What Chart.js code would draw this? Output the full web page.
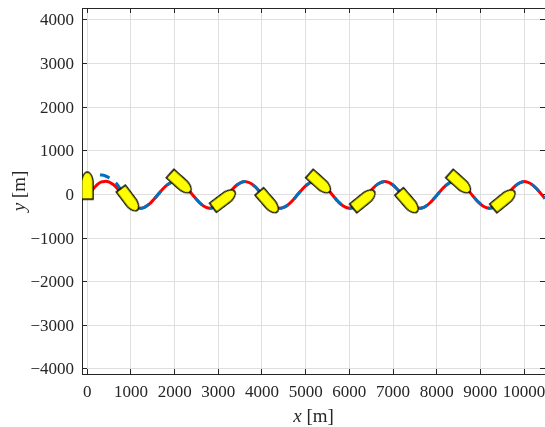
<!DOCTYPE html>
<html>
<head>
<meta charset="utf-8">
<style>
  html, body { margin: 0; padding: 0; background: #fff; }
  canvas { display: block; }
</style>
<script src="https://cdn.jsdelivr.net/npm/chart.js@4"></script>
</head>
<body>
<canvas id="c" width="545" height="427"></canvas>
<script>
// values
const trackX = [0,101,202,302,403,504,605,705,806,907,1008,1108,1209,1310,1411,1511,1612,1713,1814,1914,
  2015,2116,2217,2317,2418,2519,2620,2720,2821,2922,3023,3124,3224,3325,3426,3527,3627,3728,3829,3930,
  4030,4131,4232,4333,4433,4534,4635,4736,4836,4937,5038,5139,5239,5340,5441,5542,5643,5743,5844,5945,
  6046,6146,6247,6348,6449,6549,6650,6751,6852,6952,7053,7154,7255,7355,7456,7557,7658,7758,7859,7960,
  8061,8162,8262,8363,8464,8565,8665,8766,8867,8968,9068,9169,9270,9371,9471,9572,9673,9774,9874,9975,
  10076,10177,10277,10378,10479];
const trackY = [0,90,200,280,300,285,220,120,10,-110,-215,-290,-315,-293,-227,-128,-11,107,207,273,
  295,270,202,101,-17,-134,-232,-295,-315,-287,-216,-113,5,121,217,278,294,263,190,86,
  -33,-148,-243,-301,-314,-280,-204,-99,21,135,227,283,293,256,178,71,-48,-162,-252,-305,
  -312,-273,-192,-84,36,148,237,287,291,249,166,56,-63,-175,-261,-308,-309,-264,-180,-69,
  51,161,246,290,288,240,153,42,-78,-187,-270,-311,-306,-256,-167,-54,66,174,253,292,
  284,231,141,27,-93];
// dashed reference starts off the track, then follows it
const refX = [292,403,504,605,705,806,907];
const refY = [450,430,380,310,200,30,-110];

const shipX = [0,955,2127,3125,4142,5317,6329,7344,8523,9536];
const shipY = [200,-112,272,-117,-165,272,-124,-165,272,-124];
const shipHeading = [0,143,132,53,139,132,51,139,132,51];

const xTicks = [0,1000,2000,3000,4000,5000,6000,7000,8000,9000,10000];
const yTicks = [-4000,-3000,-2000,-1000,0,1000,2000,3000,4000];
const xLimits = [-121,10480];
const yLimits = [-4115,4274];

const INK = '#262626';
const GRID = '#dfdfdf';
const TICK_FONT = { family: '"Liberation Serif", serif', size: 17 };

// ship marker, pointing up, centred on its canvas
function makeShip() {
  const w = 11.5, len = 27;
  const cv = document.createElement('canvas');
  cv.width = 17; cv.height = 33;
  const g = cv.getContext('2d');
  g.translate(cv.width / 2, cv.height / 2);
  const hw = w / 2, hl = len / 2;
  g.beginPath();
  g.moveTo(-hw, hl);
  g.lineTo(-hw, -hl + 9);
  g.quadraticCurveTo(-hw + 1, -hl + 2, -1.3, -hl);
  g.lineTo(1.3, -hl);
  g.quadraticCurveTo(hw - 1, -hl + 2, hw, -hl + 9);
  g.lineTo(hw, hl);
  g.closePath();
  g.fillStyle = '#ffff00';
  g.fill();
  g.lineWidth = 1.3;
  g.strokeStyle = '#000';
  g.stroke();
  return cv;
}

function pairs(xs, ys) {
  return xs.map((x, i) => ({ x: x, y: ys[i] }));
}

function tickText(v) {
  return v < 0 ? '\u2212' + Math.abs(v) : String(v);
}

function setTicks(values) {
  return s => { s.ticks = values.map(v => ({ value: v })); };
}

// keep the plot box where it is, labels may overhang
function noOverhang(s) {
  s.paddingLeft = s.paddingRight = s.paddingTop = s.paddingBottom = 0;
}

// axis titles have an italic letter next to upright text
const axisTitles = {
  id: 'axisTitles',
  afterDraw(chart) {
    const ctx = chart.ctx;
    const a = chart.chartArea;
    const put = (letter) => {
      ctx.font = 'italic 19px "Liberation Serif", serif';
      const w1 = ctx.measureText(letter).width;
      ctx.font = '19px "Liberation Serif", serif';
      const w2 = ctx.measureText(' [m]').width;
      const start = -(w1 + w2) / 2;
      ctx.textBaseline = 'alphabetic';
      ctx.textAlign = 'left';
      ctx.fillStyle = INK;
      ctx.font = 'italic 19px "Liberation Serif", serif';
      ctx.fillText(letter, start, 0);
      ctx.font = '19px "Liberation Serif", serif';
      ctx.fillText(' [m]', start + w1, 0);
    };
    ctx.save();
    ctx.translate((a.left + a.right) / 2, 422);
    put('x');
    ctx.restore();
    ctx.save();
    ctx.translate(25, (a.top + a.bottom) / 2);
    ctx.rotate(-Math.PI / 2);
    put('y');
    ctx.restore();
  }
};

const sideAxis = {
  border: { color: INK, width: 1 },
  grid: { drawOnChartArea: false, tickLength: -5, tickColor: INK, tickWidth: 1 }
};

new Chart(document.getElementById('c'), {
  type: 'scatter',
  plugins: [axisTitles],
  data: {
    datasets: [
      {
        label: 'ships',
        data: pairs(shipX, shipY),
        showLine: false,
        pointStyle: makeShip(),
        pointRotation: shipHeading,
        order: 0
      },
      {
        label: 'reference',
        data: pairs(refX.concat(trackX.slice(10)), refY.concat(trackY.slice(10))),
        showLine: true,
        pointRadius: 0,
        borderColor: '#0072BD',
        borderWidth: 3,
        borderDash: [10, 8],
        tension: 0.4,
        order: 1
      },
      {
        label: 'track',
        data: pairs(trackX, trackY),
        showLine: true,
        pointRadius: 0,
        borderColor: '#ff0000',
        borderWidth: 3,
        tension: 0.4,
        order: 2
      }
    ]
  },
  options: {
    responsive: false,
    animation: false,
    layout: { autoPadding: false, padding: { top: 8, left: 0, right: 0, bottom: 0 } },
    plugins: { legend: { display: false }, tooltip: { enabled: false } },
    scales: {
      x: {
        type: 'linear',
        position: 'bottom',
        min: xLimits[0],
        max: xLimits[1],
        afterFit: s => { s.height = 53; noOverhang(s); },
        afterBuildTicks: setTicks(xTicks),
        border: { color: INK, width: 1 },
        grid: { color: GRID, lineWidth: 1, tickLength: -5, tickColor: INK, tickWidth: 1 },
        ticks: { font: TICK_FONT, color: INK, padding: 13, maxRotation: 0, autoSkip: false, callback: tickText }
      },
      y: {
        type: 'linear',
        position: 'left',
        min: yLimits[0],
        max: yLimits[1],
        afterFit: s => { s.width = 82; noOverhang(s); },
        afterBuildTicks: setTicks(yTicks),
        border: { color: INK, width: 1 },
        grid: { color: GRID, lineWidth: 1, tickLength: -5, tickColor: INK, tickWidth: 1 },
        ticks: { font: TICK_FONT, color: INK, padding: 13, labelOffset: 1, autoSkip: false, callback: tickText }
      },
      xTop: Object.assign({}, sideAxis, {
        type: 'linear',
        position: 'top',
        min: xLimits[0],
        max: xLimits[1],
        afterFit: s => { s.height = 0; noOverhang(s); },
        afterBuildTicks: setTicks(xTicks),
        ticks: { display: false }
      }),
      yRight: Object.assign({}, sideAxis, {
        type: 'linear',
        position: 'right',
        min: yLimits[0],
        max: yLimits[1],
        afterFit: s => { s.width = 0; noOverhang(s); },
        afterBuildTicks: setTicks(yTicks),
        ticks: { display: false }
      })
    }
  }
});
</script>
</body>
</html>
